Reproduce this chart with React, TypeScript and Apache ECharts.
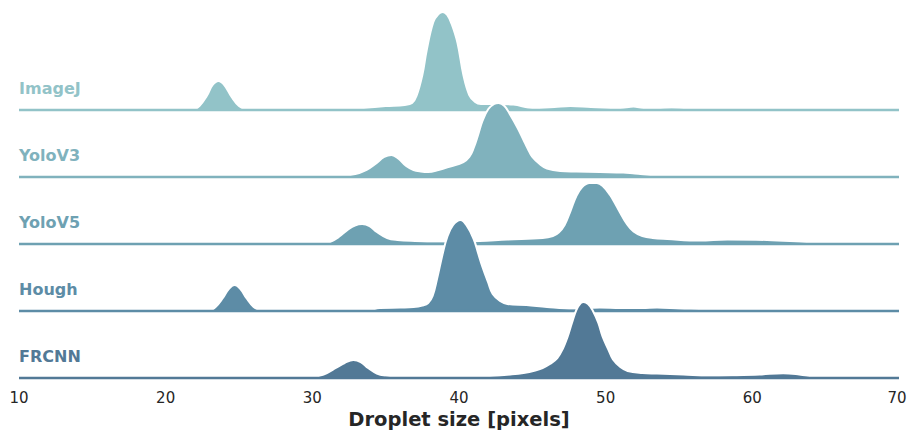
import React, { useEffect, useRef } from "react";
import * as echarts from "echarts";

const rowNames = ["ImageJ", "YoloV3", "YoloV5", "Hough", "FRCNN"];
const rowColors = ["#92c3c8", "#80b2bd", "#6ea1b2", "#5d8ca6", "#527996"];
const xTicks = [10, 20, 30, 40, 50, 60, 70];

const imagejDensity = [[10,0],[21.8,0],[22.3,0.008],[22.8,0.028],[23.2,0.05],[23.6,0.058],[24.0,0.05],[24.5,0.026],[25.0,0.008],[25.5,0.001],[26,0],[32.5,0],[33.5,0.004],[35,0.008],[36.3,0.01],[36.8,0.014],[37.1,0.028],[37.5,0.07],[37.8,0.12],[38.25,0.176],[38.6,0.192],[38.9,0.196],[39.2,0.19],[39.5,0.172],[39.9,0.134],[40.3,0.07],[40.7,0.03],[41.1,0.016],[41.5,0.012],[42.5,0.012],[43.7,0.011],[45,0.004],[46.5,0.006],[47.6,0.008],[49,0.006],[51,0.004],[51.9,0.007],[52.6,0.004],[53.5,0.004],[54.5,0.005],[56.4,0.002],[58,0],[70,0]];
const yolov3Density = [[10,0],[31,0],[32,0.002],[32.6,0.004],[33.2,0.008],[33.7,0.014],[34.3,0.026],[34.9,0.04],[35.4,0.044],[35.9,0.036],[36.4,0.022],[36.9,0.014],[37.4,0.011],[37.9,0.01],[38.6,0.014],[39.4,0.021],[40.3,0.03],[40.7,0.04],[41.0,0.058],[41.3,0.084],[41.6,0.112],[42.0,0.136],[42.4,0.146],[42.7,0.148],[43.1,0.142],[43.5,0.124],[44.0,0.098],[44.4,0.074],[44.7,0.056],[45.0,0.04],[45.5,0.026],[46.0,0.017],[46.9,0.012],[48,0.011],[49.6,0.01],[51.2,0.009],[52,0.007],[53.5,0.004],[55,0.004],[56.6,0.003],[58,0],[70,0]];
const yolov5Density = [[10,0],[30.6,0],[31.2,0.004],[31.8,0.014],[32.4,0.028],[32.9,0.037],[33.4,0.04],[33.9,0.036],[34.4,0.024],[35.1,0.012],[35.8,0.008],[37,0.006],[38.5,0.005],[40,0.005],[41.4,0.006],[43.3,0.009],[45.7,0.012],[46.4,0.016],[46.8,0.023],[47.2,0.038],[47.6,0.066],[48.0,0.096],[48.4,0.114],[48.9,0.122],[49.4,0.122],[49.8,0.116],[50.3,0.098],[50.7,0.078],[51.0,0.062],[51.4,0.042],[51.9,0.025],[52.5,0.016],[53.2,0.012],[54.2,0.01],[56.4,0.007],[58.3,0.009],[61,0.008],[63.7,0.004],[65.5,0.002],[66.5,0],[70,0]];
const houghDensity = [[10,0],[22.9,0],[23.4,0.008],[23.9,0.026],[24.3,0.044],[24.7,0.052],[25.1,0.044],[25.5,0.026],[26.0,0.008],[26.5,0.001],[27,0],[33.5,0],[34,0.002],[34.6,0.006],[36,0.007],[36.9,0.008],[37.5,0.011],[37.9,0.016],[38.2,0.03],[38.5,0.064],[38.9,0.116],[39.2,0.148],[39.6,0.172],[40.1,0.182],[40.5,0.172],[41.0,0.144],[41.3,0.116],[41.6,0.088],[42.0,0.056],[42.3,0.034],[42.8,0.02],[43.3,0.014],[44.6,0.012],[46,0.008],[47.8,0.005],[49.6,0.007],[51,0.006],[52.5,0.006],[53.5,0.007],[55,0.005],[56.4,0.004],[58.7,0.002],[60,0],[70,0]];
const frcnnDensity = [[10,0],[29.8,0],[30.4,0.004],[31.0,0.01],[31.6,0.02],[32.2,0.03],[32.8,0.036],[33.3,0.032],[33.8,0.02],[34.4,0.009],[35,0.005],[36,0.003],[40,0.002],[42.1,0.004],[43.5,0.007],[44.4,0.01],[45.2,0.015],[45.7,0.02],[46.2,0.028],[46.7,0.04],[47.1,0.06],[47.4,0.082],[47.7,0.11],[48.0,0.136],[48.3,0.15],[48.5,0.152],[48.8,0.148],[49.1,0.136],[49.5,0.11],[49.8,0.082],[50.2,0.056],[50.5,0.037],[51.0,0.022],[51.5,0.014],[52.5,0.01],[53.5,0.009],[55.3,0.007],[57,0.005],[58.7,0.0056],[60.5,0.007],[62.1,0.0096],[63.2,0.007],[64.1,0.003],[65,0],[70,0]];

const densities = [imagejDensity, yolov3Density, yolov5Density, houghDensity, frcnnDensity];

export default function App() {
  const ref = useRef<HTMLDivElement>(null);
  useEffect(() => {
    if (!ref.current) return;
    const chart = echarts.init(ref.current, null, { renderer: "svg" });
    const baselines = [110, 177, 244, 311, 378];
    const H = 110;
    const yMax = 0.22;
    const font = "DejaVu Sans";
    const xMax = xTicks[xTicks.length - 1];
    const grids = baselines.map((b) => ({
      left: 19,
      right: 8,
      top: b - H,
      height: H,
      containLabel: false,
      outerBoundsMode: "none",
    }));
    const last = rowNames.length - 1;
    const xAxes = baselines.map((_, i) => ({
      type: "value",
      gridIndex: i,
      min: xTicks[0],
      max: xMax,
      interval: 10,
      show: i === last,
      axisLine: { show: false },
      axisTick: { show: false },
      splitLine: { show: false },
      axisLabel: {
        show: i === last,
        fontSize: 15,
        color: "#262626",
        fontFamily: font,
        margin: 12,
        formatter: (v: number) => (v === xMax ? `{m|${v}}` : String(v)),
        rich: {
          m: {
            fontSize: 15,
            color: "#262626",
            fontFamily: font,
            padding: [0, 4, 0, 0],
          },
        },
      },
      name: i === last ? "Droplet size [pixels]" : "",
      nameLocation: "middle",
      nameGap: 31,
      nameTextStyle: {
        fontSize: 19.5,
        fontWeight: "bold",
        color: "#262626",
        fontFamily: font,
      },
    }));
    const yAxes = baselines.map((_, i) => ({
      type: "value",
      gridIndex: i,
      min: 0,
      max: yMax,
      show: false,
      splitLine: { show: false },
    }));
    const series: any[] = [];
    densities.forEach((d, i) => {
      series.push({
        type: "line",
        name: rowNames[i],
        xAxisIndex: i,
        yAxisIndex: i,
        data: d,
        smooth: 0.4,
        symbol: "none",
        clip: false,
        z: 2 + 2 * i,
        lineStyle: { color: "#ffffff", width: 2 },
        areaStyle: { color: rowColors[i], opacity: 1 },
        silent: true,
      });
      series.push({
        type: "line",
        xAxisIndex: i,
        yAxisIndex: i,
        data: [[xTicks[0], 0], [xMax, 0]],
        symbol: "none",
        clip: false,
        z: 3 + 2 * i,
        lineStyle: { color: rowColors[i], width: 2.6 },
        silent: true,
      });
    });
    const graphic = rowNames.map((n, i) => ({
      type: "text",
      x: 19,
      y: baselines[i] - 21.5,
      z: 100,
      style: {
        text: n,
        fill: rowColors[i],
        font: `bold 16px '${font}'`,
        verticalAlign: "middle",
        align: "left",
      },
    }));
    chart.setOption({
      animation: false,
      backgroundColor: "#ffffff",
      grid: grids,
      xAxis: xAxes,
      yAxis: yAxes,
      series,
      graphic,
    } as any);
    return () => chart.dispose();
  }, []);
  return (
    <div
      ref={ref}
      style={{ position: "absolute", left: 0, top: 0, width: 907, height: 431 }}
    />
  );
}
